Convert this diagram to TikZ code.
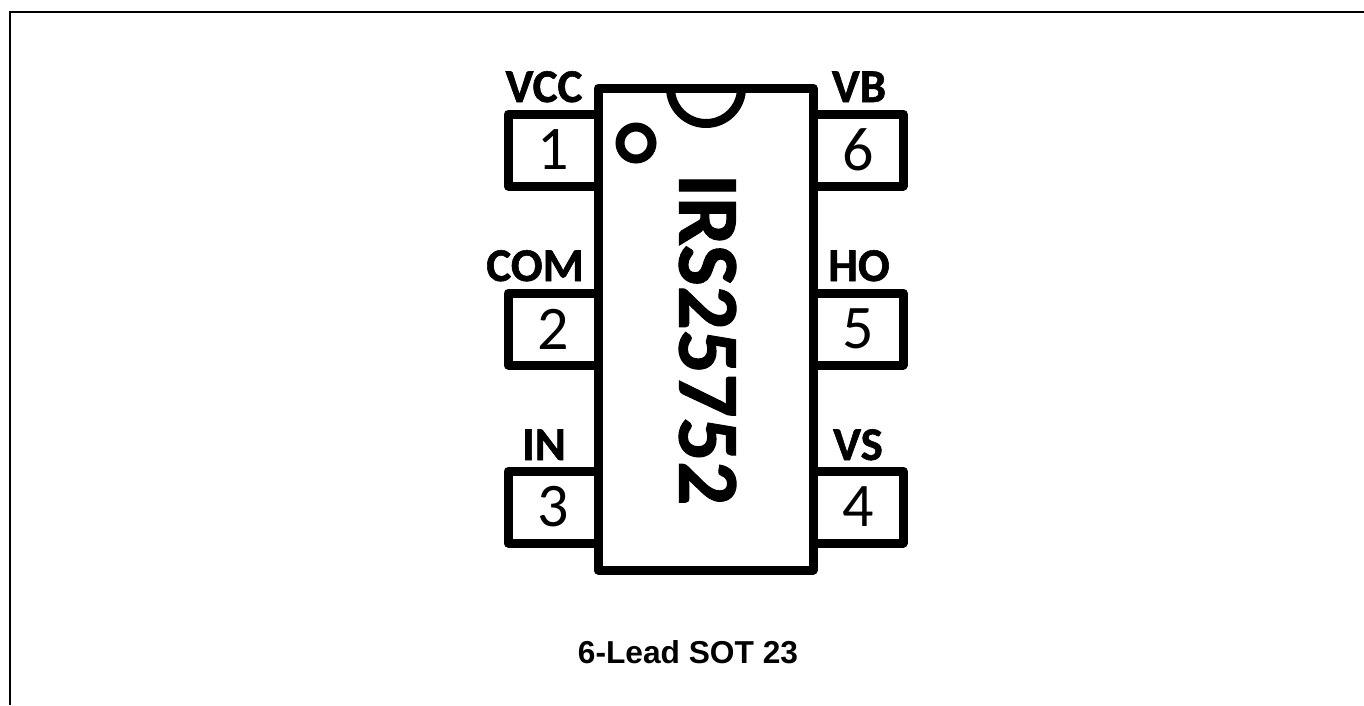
\documentclass[tikz,border=0pt]{standalone}
\usepackage{fontspec}
\setmainfont{Carlito}
\newfontfamily\capfont{Liberation Sans}
\newfontfamily\heavyfont[FakeBold=1.2]{Carlito Bold}
\newfontfamily\heavierfont[FakeBold=1.3]{Carlito Bold}
\begin{document}
\begin{tikzpicture}[x=1pt,y=-1pt,
  outline/.style={draw=black,line width=9pt,line join=round,fill=white},
  frameline/.style={draw=black,line width=2.2pt,line join=miter},
  pinnum/.style={font=\fontsize{62}{62}\selectfont,inner sep=0pt,anchor=center},
  pinname/.style={font=\heavyfont\fontsize{47}{47}\selectfont,inner sep=0pt,anchor=base},
  partname/.style={font=\heavierfont\fontsize{86.5}{86.5}\selectfont,inner sep=0pt,rotate=-90,anchor=center},
  captiontext/.style={font=\capfont\fontsize{31.7}{31.7}\selectfont\bfseries,inner sep=0pt,anchor=base}]
\useasboundingbox (0,0) rectangle (1364,705);
\fill[white] (0,0) rectangle (1364,705);
\coordinate (fa) at (10,705);
\coordinate (fb) at (10,12);
\coordinate (fc) at (1364,12);
\draw[frameline] (fa) -- (fb) -- (fc);
% pins
\draw[outline] (598,114) -- (508,114) -- (508,186) -- (598,186);
\draw[outline] (598,293) -- (508,293) -- (508,365) -- (598,365);
\draw[outline] (598,471) -- (508,471) -- (508,543) -- (598,543);
\draw[outline] (813,114) -- (903,114) -- (903,186) -- (813,186);
\draw[outline] (813,293) -- (903,293) -- (903,365) -- (813,365);
\draw[outline] (813,471) -- (903,471) -- (903,543) -- (813,543);
% body
\draw[outline] (598,88) rectangle (813,570);
\draw[draw=black,line width=9pt] (670.5,88) arc[start angle=180,end angle=360,x radius=35.5,y radius=-35.5];
\draw[draw=black,line width=9pt] (636,143) circle[radius=16];
% text
\node[pinnum] (n1) at (553,150) {1};
\node[pinnum] (n2) at (553,329) {2};
\node[pinnum] (n3) at (553,507) {3};
\node[pinnum] (n6) at (858,150) {6};
\node[pinnum] (n5) at (858,329) {5};
\node[pinnum] (n4) at (858,507) {4};
\node[pinname] (l1) at (544,102) {VCC};
\node[pinname] (l2) at (535,281) {COM};
\node[pinname] (l3) at (544,460) {IN};
\node[pinname] (l6) at (859,102) {VB};
\node[pinname] (l5) at (859,281) {HO};
\node[pinname] (l4) at (858,460) {VS};
\node[partname] (part) at (707.5,339.5) {IRS25752};
\node[captiontext] (cap) at (688,663) {6-Lead SOT 23};
\end{tikzpicture}
\end{document}
